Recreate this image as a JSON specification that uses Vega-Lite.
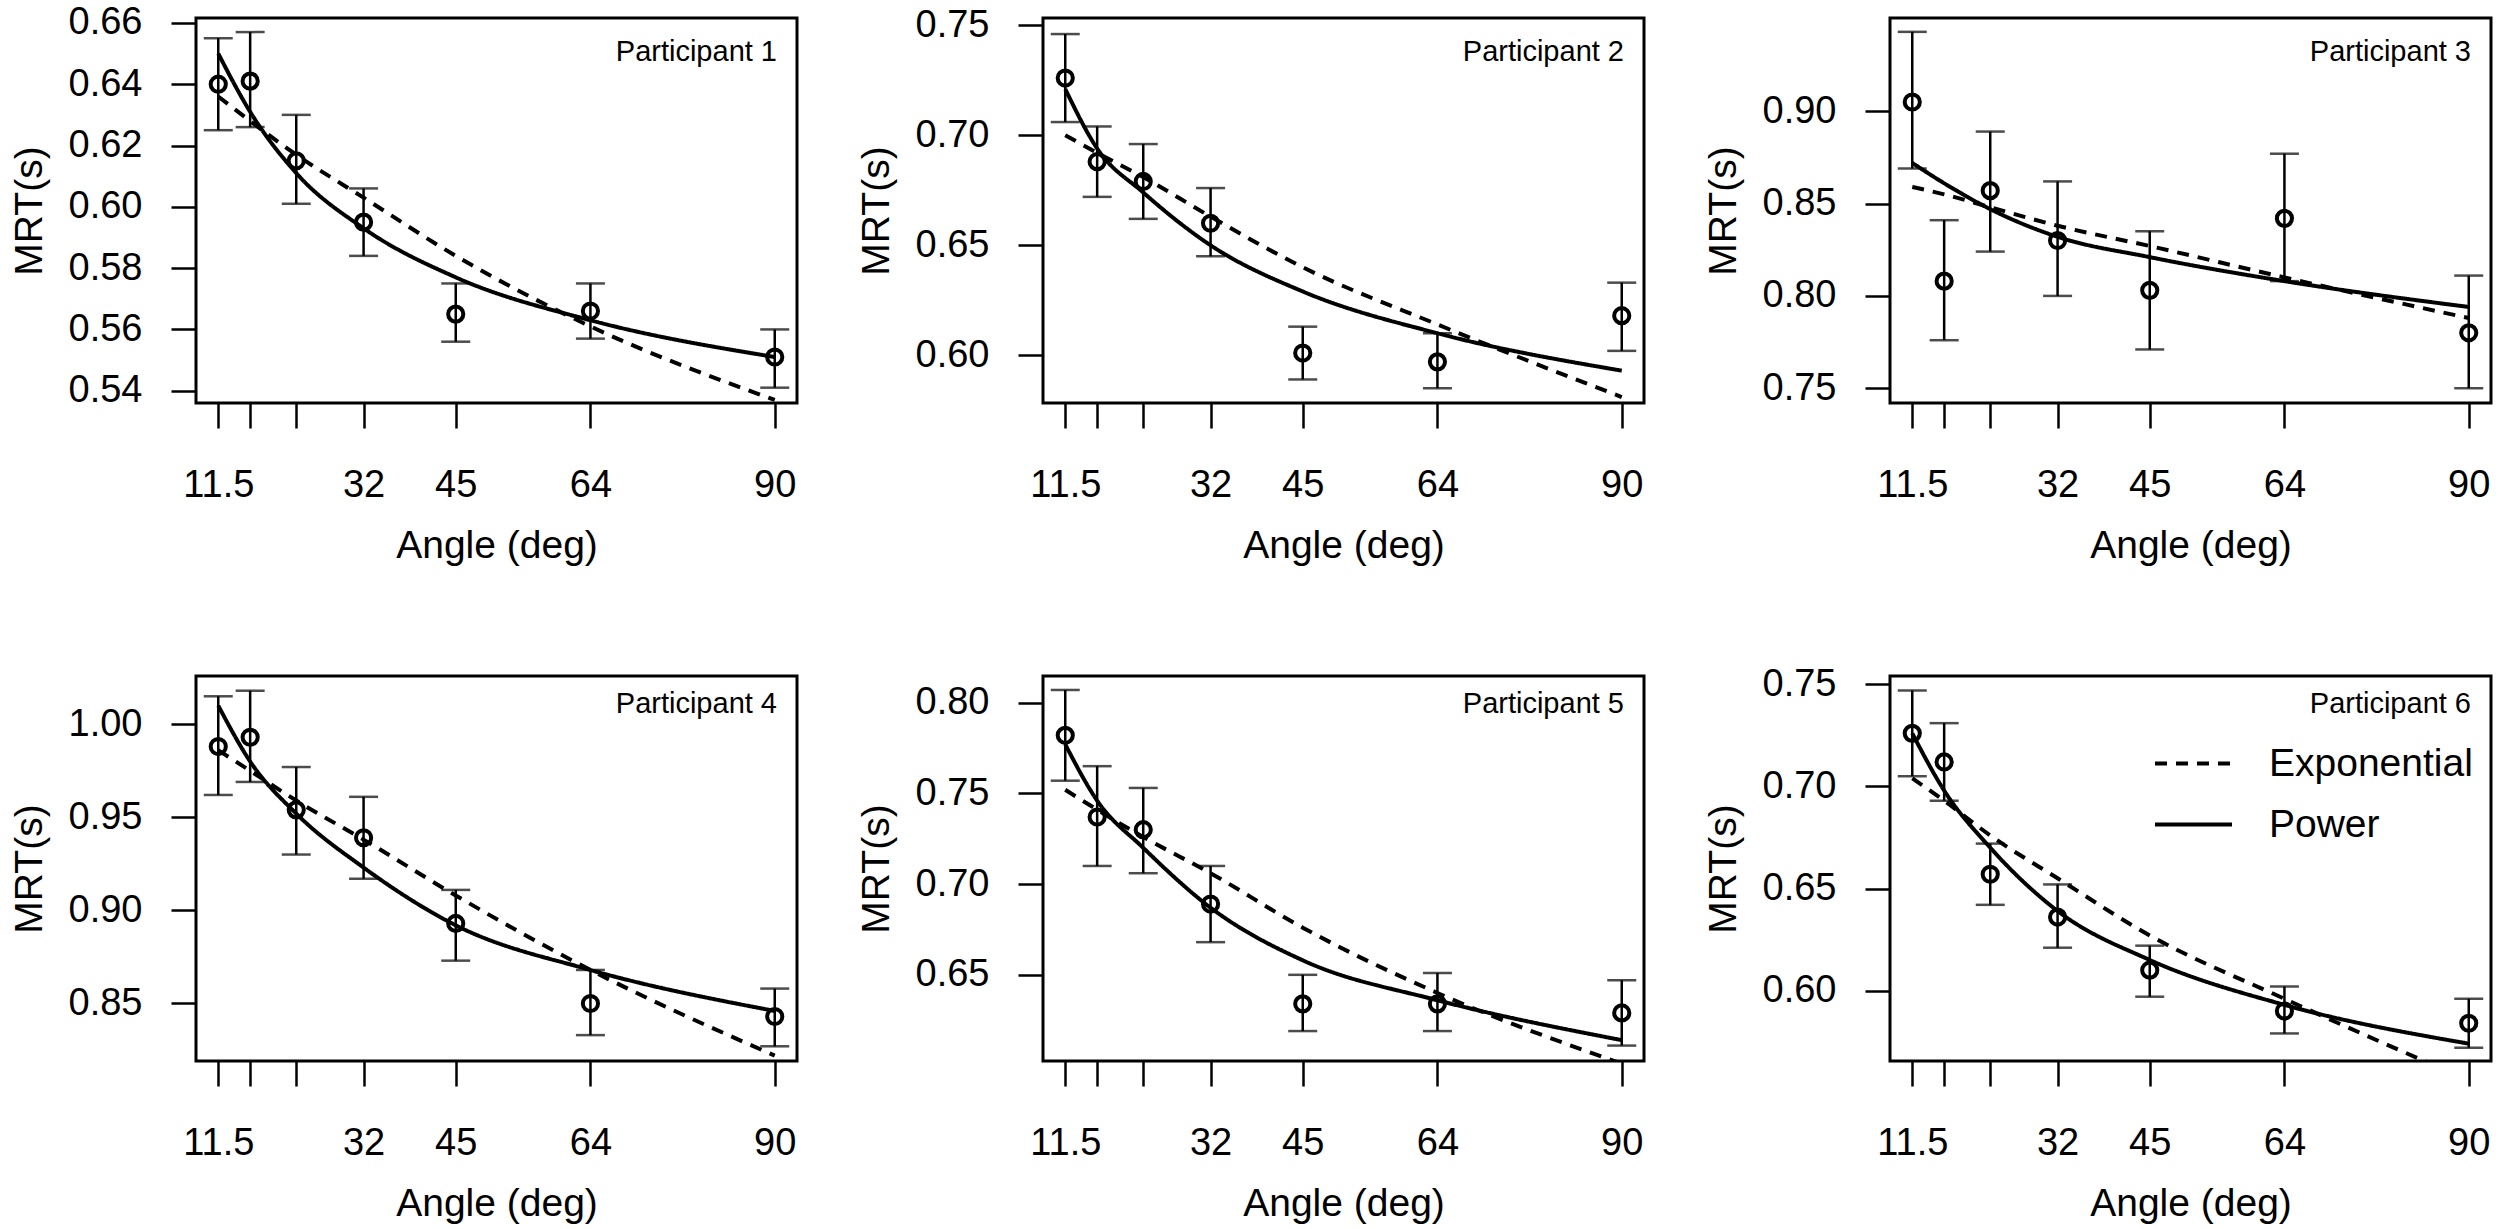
{
  "$schema": "https://vega.github.io/schema/vega-lite/v6.json",
  "background": "white",
  "padding": {"left": 8, "top": 2, "right": 5, "bottom": 0},
  "datasets": {
    "points": [
      {"p": 1, "angle": 11.5, "mrt": 0.640, "lo": 0.625, "hi": 0.655},
      {"p": 1, "angle": 16, "mrt": 0.641, "lo": 0.626, "hi": 0.657},
      {"p": 1, "angle": 22.5, "mrt": 0.615, "lo": 0.601, "hi": 0.630},
      {"p": 1, "angle": 32, "mrt": 0.595, "lo": 0.584, "hi": 0.606},
      {"p": 1, "angle": 45, "mrt": 0.565, "lo": 0.556, "hi": 0.575},
      {"p": 1, "angle": 64, "mrt": 0.566, "lo": 0.557, "hi": 0.575},
      {"p": 1, "angle": 90, "mrt": 0.551, "lo": 0.541, "hi": 0.560},
      {"p": 2, "angle": 11.5, "mrt": 0.726, "lo": 0.706, "hi": 0.746},
      {"p": 2, "angle": 16, "mrt": 0.688, "lo": 0.672, "hi": 0.704},
      {"p": 2, "angle": 22.5, "mrt": 0.679, "lo": 0.662, "hi": 0.696},
      {"p": 2, "angle": 32, "mrt": 0.660, "lo": 0.645, "hi": 0.676},
      {"p": 2, "angle": 45, "mrt": 0.601, "lo": 0.589, "hi": 0.613},
      {"p": 2, "angle": 64, "mrt": 0.597, "lo": 0.585, "hi": 0.610},
      {"p": 2, "angle": 90, "mrt": 0.618, "lo": 0.602, "hi": 0.633},
      {"p": 3, "angle": 11.5, "mrt": 0.905, "lo": 0.869, "hi": 0.943},
      {"p": 3, "angle": 16, "mrt": 0.808, "lo": 0.776, "hi": 0.841},
      {"p": 3, "angle": 22.5, "mrt": 0.857, "lo": 0.824, "hi": 0.889},
      {"p": 3, "angle": 32, "mrt": 0.830, "lo": 0.800, "hi": 0.862},
      {"p": 3, "angle": 45, "mrt": 0.803, "lo": 0.771, "hi": 0.835},
      {"p": 3, "angle": 64, "mrt": 0.842, "lo": 0.808, "hi": 0.877},
      {"p": 3, "angle": 90, "mrt": 0.780, "lo": 0.750, "hi": 0.811},
      {"p": 4, "angle": 11.5, "mrt": 0.988, "lo": 0.962, "hi": 1.015},
      {"p": 4, "angle": 16, "mrt": 0.993, "lo": 0.969, "hi": 1.018},
      {"p": 4, "angle": 22.5, "mrt": 0.954, "lo": 0.930, "hi": 0.977},
      {"p": 4, "angle": 32, "mrt": 0.939, "lo": 0.917, "hi": 0.961},
      {"p": 4, "angle": 45, "mrt": 0.893, "lo": 0.873, "hi": 0.911},
      {"p": 4, "angle": 64, "mrt": 0.850, "lo": 0.833, "hi": 0.868},
      {"p": 4, "angle": 90, "mrt": 0.843, "lo": 0.827, "hi": 0.858},
      {"p": 5, "angle": 11.5, "mrt": 0.782, "lo": 0.757, "hi": 0.807},
      {"p": 5, "angle": 16, "mrt": 0.737, "lo": 0.710, "hi": 0.765},
      {"p": 5, "angle": 22.5, "mrt": 0.730, "lo": 0.706, "hi": 0.753},
      {"p": 5, "angle": 32, "mrt": 0.689, "lo": 0.668, "hi": 0.710},
      {"p": 5, "angle": 45, "mrt": 0.634, "lo": 0.619, "hi": 0.650},
      {"p": 5, "angle": 64, "mrt": 0.634, "lo": 0.619, "hi": 0.651},
      {"p": 5, "angle": 90, "mrt": 0.629, "lo": 0.611, "hi": 0.647},
      {"p": 6, "angle": 11.5, "mrt": 0.726, "lo": 0.705, "hi": 0.747},
      {"p": 6, "angle": 16, "mrt": 0.712, "lo": 0.693, "hi": 0.731},
      {"p": 6, "angle": 22.5, "mrt": 0.657, "lo": 0.642, "hi": 0.672},
      {"p": 6, "angle": 32, "mrt": 0.636, "lo": 0.621, "hi": 0.652},
      {"p": 6, "angle": 45, "mrt": 0.610, "lo": 0.597, "hi": 0.622},
      {"p": 6, "angle": 64, "mrt": 0.590, "lo": 0.579, "hi": 0.602},
      {"p": 6, "angle": 90, "mrt": 0.584, "lo": 0.572, "hi": 0.596}
    ],
    "curves": [
      {"p": 1, "model": "Power", "angle": 11.5, "mrt": 0.650},
      {"p": 1, "model": "Power", "angle": 16, "mrt": 0.631},
      {"p": 1, "model": "Power", "angle": 22.5, "mrt": 0.611},
      {"p": 1, "model": "Power", "angle": 32, "mrt": 0.593},
      {"p": 1, "model": "Power", "angle": 45, "mrt": 0.577},
      {"p": 1, "model": "Power", "angle": 64, "mrt": 0.563},
      {"p": 1, "model": "Power", "angle": 90, "mrt": 0.551},
      {"p": 1, "model": "Exponential", "angle": 11.5, "mrt": 0.636},
      {"p": 1, "model": "Exponential", "angle": 16, "mrt": 0.628},
      {"p": 1, "model": "Exponential", "angle": 22.5, "mrt": 0.617},
      {"p": 1, "model": "Exponential", "angle": 32, "mrt": 0.603},
      {"p": 1, "model": "Exponential", "angle": 45, "mrt": 0.584},
      {"p": 1, "model": "Exponential", "angle": 64, "mrt": 0.561},
      {"p": 1, "model": "Exponential", "angle": 90, "mrt": 0.537},
      {"p": 2, "model": "Power", "angle": 11.5, "mrt": 0.721},
      {"p": 2, "model": "Power", "angle": 16, "mrt": 0.694},
      {"p": 2, "model": "Power", "angle": 22.5, "mrt": 0.674},
      {"p": 2, "model": "Power", "angle": 32, "mrt": 0.650},
      {"p": 2, "model": "Power", "angle": 45, "mrt": 0.629},
      {"p": 2, "model": "Power", "angle": 64, "mrt": 0.610},
      {"p": 2, "model": "Power", "angle": 90, "mrt": 0.593},
      {"p": 2, "model": "Exponential", "angle": 11.5, "mrt": 0.700},
      {"p": 2, "model": "Exponential", "angle": 16, "mrt": 0.692},
      {"p": 2, "model": "Exponential", "angle": 22.5, "mrt": 0.681},
      {"p": 2, "model": "Exponential", "angle": 32, "mrt": 0.663},
      {"p": 2, "model": "Exponential", "angle": 45, "mrt": 0.640},
      {"p": 2, "model": "Exponential", "angle": 64, "mrt": 0.614},
      {"p": 2, "model": "Exponential", "angle": 90, "mrt": 0.581},
      {"p": 3, "model": "Power", "angle": 11.5, "mrt": 0.872},
      {"p": 3, "model": "Power", "angle": 16, "mrt": 0.861},
      {"p": 3, "model": "Power", "angle": 22.5, "mrt": 0.847},
      {"p": 3, "model": "Power", "angle": 32, "mrt": 0.832},
      {"p": 3, "model": "Power", "angle": 45, "mrt": 0.821},
      {"p": 3, "model": "Power", "angle": 64, "mrt": 0.808},
      {"p": 3, "model": "Power", "angle": 90, "mrt": 0.794},
      {"p": 3, "model": "Exponential", "angle": 11.5, "mrt": 0.859},
      {"p": 3, "model": "Exponential", "angle": 16, "mrt": 0.855},
      {"p": 3, "model": "Exponential", "angle": 22.5, "mrt": 0.848},
      {"p": 3, "model": "Exponential", "angle": 32, "mrt": 0.838},
      {"p": 3, "model": "Exponential", "angle": 45, "mrt": 0.827},
      {"p": 3, "model": "Exponential", "angle": 64, "mrt": 0.810},
      {"p": 3, "model": "Exponential", "angle": 90, "mrt": 0.788},
      {"p": 4, "model": "Power", "angle": 11.5, "mrt": 1.010},
      {"p": 4, "model": "Power", "angle": 16, "mrt": 0.980},
      {"p": 4, "model": "Power", "angle": 22.5, "mrt": 0.952},
      {"p": 4, "model": "Power", "angle": 32, "mrt": 0.923},
      {"p": 4, "model": "Power", "angle": 45, "mrt": 0.892},
      {"p": 4, "model": "Power", "angle": 64, "mrt": 0.868},
      {"p": 4, "model": "Power", "angle": 90, "mrt": 0.846},
      {"p": 4, "model": "Exponential", "angle": 11.5, "mrt": 0.986},
      {"p": 4, "model": "Exponential", "angle": 16, "mrt": 0.975},
      {"p": 4, "model": "Exponential", "angle": 22.5, "mrt": 0.959},
      {"p": 4, "model": "Exponential", "angle": 32, "mrt": 0.938},
      {"p": 4, "model": "Exponential", "angle": 45, "mrt": 0.908},
      {"p": 4, "model": "Exponential", "angle": 64, "mrt": 0.868},
      {"p": 4, "model": "Exponential", "angle": 90, "mrt": 0.822},
      {"p": 5, "model": "Power", "angle": 11.5, "mrt": 0.777},
      {"p": 5, "model": "Power", "angle": 16, "mrt": 0.746},
      {"p": 5, "model": "Power", "angle": 22.5, "mrt": 0.720},
      {"p": 5, "model": "Power", "angle": 32, "mrt": 0.687},
      {"p": 5, "model": "Power", "angle": 45, "mrt": 0.658},
      {"p": 5, "model": "Power", "angle": 64, "mrt": 0.636},
      {"p": 5, "model": "Power", "angle": 90, "mrt": 0.614},
      {"p": 5, "model": "Exponential", "angle": 11.5, "mrt": 0.752},
      {"p": 5, "model": "Exponential", "angle": 16, "mrt": 0.741},
      {"p": 5, "model": "Exponential", "angle": 22.5, "mrt": 0.726},
      {"p": 5, "model": "Exponential", "angle": 32, "mrt": 0.706},
      {"p": 5, "model": "Exponential", "angle": 45, "mrt": 0.676},
      {"p": 5, "model": "Exponential", "angle": 64, "mrt": 0.640},
      {"p": 5, "model": "Exponential", "angle": 90, "mrt": 0.601},
      {"p": 6, "model": "Power", "angle": 11.5, "mrt": 0.726},
      {"p": 6, "model": "Power", "angle": 16, "mrt": 0.698},
      {"p": 6, "model": "Power", "angle": 22.5, "mrt": 0.670},
      {"p": 6, "model": "Power", "angle": 32, "mrt": 0.639},
      {"p": 6, "model": "Power", "angle": 45, "mrt": 0.615},
      {"p": 6, "model": "Power", "angle": 64, "mrt": 0.593},
      {"p": 6, "model": "Power", "angle": 90, "mrt": 0.574},
      {"p": 6, "model": "Exponential", "angle": 11.5, "mrt": 0.704},
      {"p": 6, "model": "Exponential", "angle": 16, "mrt": 0.693},
      {"p": 6, "model": "Exponential", "angle": 22.5, "mrt": 0.676},
      {"p": 6, "model": "Exponential", "angle": 32, "mrt": 0.655},
      {"p": 6, "model": "Exponential", "angle": 45, "mrt": 0.627},
      {"p": 6, "model": "Exponential", "angle": 64, "mrt": 0.596},
      {"p": 6, "model": "Exponential", "angle": 90, "mrt": 0.556}
    ]
  },
  "columns": 3,
  "spacing": {"row": 273, "column": 246},
  "bounds": "flush",
  "resolve": {"scale": {"strokeDash": "independent"}, "legend": {"strokeDash": "independent"}},
  "concat": [
    {
      "width": 601, "height": 385,
      "layer": [
        {"data": {"name": "curves"}, "transform": [{"filter": "datum.p == 1"}],
         "mark": {"type": "line", "interpolate": "monotone", "clip": true, "color": "black", "strokeWidth": 4},
         "encoding": {
           "x": {"field": "angle", "type": "quantitative", "title": "Angle (deg)", "scale": {"domain": [8.36, 93.14], "nice": false, "zero": false}},
           "y": {"field": "mrt", "type": "quantitative", "title": "MRT(s)", "scale": {"domain": [0.536, 0.6616], "nice": false, "zero": false}},
           "strokeDash": {"field": "model", "type": "nominal", "scale": {"domain": ["Exponential", "Power"], "range": [[12, 9], [1, 0]]}, "legend": null}}},
        {"data": {"name": "points"}, "transform": [{"filter": "datum.p == 1"}],
         "mark": {"type": "errorbar", "color": "black", "ticks": {"size": 29, "thickness": 2.5, "color": "black"}, "rule": {"strokeWidth": 2.5, "color": "black"}},
         "encoding": {
           "x": {"field": "angle", "type": "quantitative", "title": "Angle (deg)", "scale": {"domain": [8.36, 93.14], "nice": false, "zero": false}},
           "y": {"field": "lo", "type": "quantitative", "title": "MRT(s)", "scale": {"domain": [0.536, 0.6616], "nice": false, "zero": false}},
           "y2": {"field": "hi"}}},
        {"data": {"name": "points"}, "transform": [{"filter": "datum.p == 1"}],
         "mark": {"type": "point", "shape": "circle", "filled": false, "color": "black", "opacity": 1, "strokeWidth": 4, "size": 230},
         "encoding": {
           "x": {"field": "angle", "type": "quantitative", "title": "Angle (deg)", "scale": {"domain": [8.36, 93.14], "nice": false, "zero": false},
                 "axis": {"values": [11.5, 16, 22.5, 32, 45, 64, 90], "labelExpr": "datum.value == 16 || datum.value == 22.5 ? '' : format(datum.value, '~g')"}},
           "y": {"field": "mrt", "type": "quantitative", "title": "MRT(s)", "scale": {"domain": [0.536, 0.6616], "nice": false, "zero": false},
                 "axis": {"values": [0.54, 0.56, 0.58, 0.60, 0.62, 0.64, 0.66], "format": ".2f"}}}},
        {"data": {"values": [{"p": 1}]},
         "mark": {"type": "text", "align": "right", "baseline": "top", "dx": -20, "dy": 20, "fontSize": 29, "fill": "black"},
         "encoding": {
           "x": {"datum": 93.14, "type": "quantitative", "title": "Angle (deg)", "scale": {"domain": [8.36, 93.14], "nice": false, "zero": false}},
           "y": {"datum": 0.6616, "type": "quantitative", "title": "MRT(s)", "scale": {"domain": [0.536, 0.6616], "nice": false, "zero": false}},
           "text": {"value": "Participant 1"}}}
      ]
    },
    {
      "width": 601, "height": 385,
      "layer": [
        {"data": {"name": "curves"}, "transform": [{"filter": "datum.p == 2"}],
         "mark": {"type": "line", "interpolate": "monotone", "clip": true, "color": "black", "strokeWidth": 4},
         "encoding": {
           "x": {"field": "angle", "type": "quantitative", "title": "Angle (deg)", "scale": {"domain": [8.36, 93.14], "nice": false, "zero": false}},
           "y": {"field": "mrt", "type": "quantitative", "title": "MRT(s)", "scale": {"domain": [0.5783, 0.7533], "nice": false, "zero": false}},
           "strokeDash": {"field": "model", "type": "nominal", "scale": {"domain": ["Exponential", "Power"], "range": [[12, 9], [1, 0]]}, "legend": null}}},
        {"data": {"name": "points"}, "transform": [{"filter": "datum.p == 2"}],
         "mark": {"type": "errorbar", "color": "black", "ticks": {"size": 29, "thickness": 2.5, "color": "black"}, "rule": {"strokeWidth": 2.5, "color": "black"}},
         "encoding": {
           "x": {"field": "angle", "type": "quantitative", "title": "Angle (deg)", "scale": {"domain": [8.36, 93.14], "nice": false, "zero": false}},
           "y": {"field": "lo", "type": "quantitative", "title": "MRT(s)", "scale": {"domain": [0.5783, 0.7533], "nice": false, "zero": false}},
           "y2": {"field": "hi"}}},
        {"data": {"name": "points"}, "transform": [{"filter": "datum.p == 2"}],
         "mark": {"type": "point", "shape": "circle", "filled": false, "color": "black", "opacity": 1, "strokeWidth": 4, "size": 230},
         "encoding": {
           "x": {"field": "angle", "type": "quantitative", "title": "Angle (deg)", "scale": {"domain": [8.36, 93.14], "nice": false, "zero": false},
                 "axis": {"values": [11.5, 16, 22.5, 32, 45, 64, 90], "labelExpr": "datum.value == 16 || datum.value == 22.5 ? '' : format(datum.value, '~g')"}},
           "y": {"field": "mrt", "type": "quantitative", "title": "MRT(s)", "scale": {"domain": [0.5783, 0.7533], "nice": false, "zero": false},
                 "axis": {"values": [0.60, 0.65, 0.70, 0.75], "format": ".2f"}}}},
        {"data": {"values": [{"p": 2}]},
         "mark": {"type": "text", "align": "right", "baseline": "top", "dx": -20, "dy": 20, "fontSize": 29, "fill": "black"},
         "encoding": {
           "x": {"datum": 93.14, "type": "quantitative", "title": "Angle (deg)", "scale": {"domain": [8.36, 93.14], "nice": false, "zero": false}},
           "y": {"datum": 0.7533, "type": "quantitative", "title": "MRT(s)", "scale": {"domain": [0.5783, 0.7533], "nice": false, "zero": false}},
           "text": {"value": "Participant 2"}}}
      ]
    },
    {
      "width": 601, "height": 385,
      "layer": [
        {"data": {"name": "curves"}, "transform": [{"filter": "datum.p == 3"}],
         "mark": {"type": "line", "interpolate": "monotone", "clip": true, "color": "black", "strokeWidth": 4},
         "encoding": {
           "x": {"field": "angle", "type": "quantitative", "title": "Angle (deg)", "scale": {"domain": [8.36, 93.14], "nice": false, "zero": false}},
           "y": {"field": "mrt", "type": "quantitative", "title": "MRT(s)", "scale": {"domain": [0.742, 0.9505], "nice": false, "zero": false}},
           "strokeDash": {"field": "model", "type": "nominal", "scale": {"domain": ["Exponential", "Power"], "range": [[12, 9], [1, 0]]}, "legend": null}}},
        {"data": {"name": "points"}, "transform": [{"filter": "datum.p == 3"}],
         "mark": {"type": "errorbar", "color": "black", "ticks": {"size": 29, "thickness": 2.5, "color": "black"}, "rule": {"strokeWidth": 2.5, "color": "black"}},
         "encoding": {
           "x": {"field": "angle", "type": "quantitative", "title": "Angle (deg)", "scale": {"domain": [8.36, 93.14], "nice": false, "zero": false}},
           "y": {"field": "lo", "type": "quantitative", "title": "MRT(s)", "scale": {"domain": [0.742, 0.9505], "nice": false, "zero": false}},
           "y2": {"field": "hi"}}},
        {"data": {"name": "points"}, "transform": [{"filter": "datum.p == 3"}],
         "mark": {"type": "point", "shape": "circle", "filled": false, "color": "black", "opacity": 1, "strokeWidth": 4, "size": 230},
         "encoding": {
           "x": {"field": "angle", "type": "quantitative", "title": "Angle (deg)", "scale": {"domain": [8.36, 93.14], "nice": false, "zero": false},
                 "axis": {"values": [11.5, 16, 22.5, 32, 45, 64, 90], "labelExpr": "datum.value == 16 || datum.value == 22.5 ? '' : format(datum.value, '~g')"}},
           "y": {"field": "mrt", "type": "quantitative", "title": "MRT(s)", "scale": {"domain": [0.742, 0.9505], "nice": false, "zero": false},
                 "axis": {"values": [0.75, 0.80, 0.85, 0.90], "format": ".2f"}}}},
        {"data": {"values": [{"p": 3}]},
         "mark": {"type": "text", "align": "right", "baseline": "top", "dx": -20, "dy": 20, "fontSize": 29, "fill": "black"},
         "encoding": {
           "x": {"datum": 93.14, "type": "quantitative", "title": "Angle (deg)", "scale": {"domain": [8.36, 93.14], "nice": false, "zero": false}},
           "y": {"datum": 0.9505, "type": "quantitative", "title": "MRT(s)", "scale": {"domain": [0.742, 0.9505], "nice": false, "zero": false}},
           "text": {"value": "Participant 3"}}}
      ]
    },
    {
      "width": 601, "height": 385,
      "layer": [
        {"data": {"name": "curves"}, "transform": [{"filter": "datum.p == 4"}],
         "mark": {"type": "line", "interpolate": "monotone", "clip": true, "color": "black", "strokeWidth": 4},
         "encoding": {
           "x": {"field": "angle", "type": "quantitative", "title": "Angle (deg)", "scale": {"domain": [8.36, 93.14], "nice": false, "zero": false}},
           "y": {"field": "mrt", "type": "quantitative", "title": "MRT(s)", "scale": {"domain": [0.8191, 1.0259], "nice": false, "zero": false}},
           "strokeDash": {"field": "model", "type": "nominal", "scale": {"domain": ["Exponential", "Power"], "range": [[12, 9], [1, 0]]}, "legend": null}}},
        {"data": {"name": "points"}, "transform": [{"filter": "datum.p == 4"}],
         "mark": {"type": "errorbar", "color": "black", "ticks": {"size": 29, "thickness": 2.5, "color": "black"}, "rule": {"strokeWidth": 2.5, "color": "black"}},
         "encoding": {
           "x": {"field": "angle", "type": "quantitative", "title": "Angle (deg)", "scale": {"domain": [8.36, 93.14], "nice": false, "zero": false}},
           "y": {"field": "lo", "type": "quantitative", "title": "MRT(s)", "scale": {"domain": [0.8191, 1.0259], "nice": false, "zero": false}},
           "y2": {"field": "hi"}}},
        {"data": {"name": "points"}, "transform": [{"filter": "datum.p == 4"}],
         "mark": {"type": "point", "shape": "circle", "filled": false, "color": "black", "opacity": 1, "strokeWidth": 4, "size": 230},
         "encoding": {
           "x": {"field": "angle", "type": "quantitative", "title": "Angle (deg)", "scale": {"domain": [8.36, 93.14], "nice": false, "zero": false},
                 "axis": {"values": [11.5, 16, 22.5, 32, 45, 64, 90], "labelExpr": "datum.value == 16 || datum.value == 22.5 ? '' : format(datum.value, '~g')"}},
           "y": {"field": "mrt", "type": "quantitative", "title": "MRT(s)", "scale": {"domain": [0.8191, 1.0259], "nice": false, "zero": false},
                 "axis": {"values": [0.85, 0.90, 0.95, 1.00], "format": ".2f"}}}},
        {"data": {"values": [{"p": 4}]},
         "mark": {"type": "text", "align": "right", "baseline": "top", "dx": -20, "dy": 14, "fontSize": 29, "fill": "black"},
         "encoding": {
           "x": {"datum": 93.14, "type": "quantitative", "title": "Angle (deg)", "scale": {"domain": [8.36, 93.14], "nice": false, "zero": false}},
           "y": {"datum": 1.0259, "type": "quantitative", "title": "MRT(s)", "scale": {"domain": [0.8191, 1.0259], "nice": false, "zero": false}},
           "text": {"value": "Participant 4"}}}
      ]
    },
    {
      "width": 601, "height": 385,
      "layer": [
        {"data": {"name": "curves"}, "transform": [{"filter": "datum.p == 5"}],
         "mark": {"type": "line", "interpolate": "monotone", "clip": true, "color": "black", "strokeWidth": 4},
         "encoding": {
           "x": {"field": "angle", "type": "quantitative", "title": "Angle (deg)", "scale": {"domain": [8.36, 93.14], "nice": false, "zero": false}},
           "y": {"field": "mrt", "type": "quantitative", "title": "MRT(s)", "scale": {"domain": [0.6025, 0.8147], "nice": false, "zero": false}},
           "strokeDash": {"field": "model", "type": "nominal", "scale": {"domain": ["Exponential", "Power"], "range": [[12, 9], [1, 0]]}, "legend": null}}},
        {"data": {"name": "points"}, "transform": [{"filter": "datum.p == 5"}],
         "mark": {"type": "errorbar", "color": "black", "ticks": {"size": 29, "thickness": 2.5, "color": "black"}, "rule": {"strokeWidth": 2.5, "color": "black"}},
         "encoding": {
           "x": {"field": "angle", "type": "quantitative", "title": "Angle (deg)", "scale": {"domain": [8.36, 93.14], "nice": false, "zero": false}},
           "y": {"field": "lo", "type": "quantitative", "title": "MRT(s)", "scale": {"domain": [0.6025, 0.8147], "nice": false, "zero": false}},
           "y2": {"field": "hi"}}},
        {"data": {"name": "points"}, "transform": [{"filter": "datum.p == 5"}],
         "mark": {"type": "point", "shape": "circle", "filled": false, "color": "black", "opacity": 1, "strokeWidth": 4, "size": 230},
         "encoding": {
           "x": {"field": "angle", "type": "quantitative", "title": "Angle (deg)", "scale": {"domain": [8.36, 93.14], "nice": false, "zero": false},
                 "axis": {"values": [11.5, 16, 22.5, 32, 45, 64, 90], "labelExpr": "datum.value == 16 || datum.value == 22.5 ? '' : format(datum.value, '~g')"}},
           "y": {"field": "mrt", "type": "quantitative", "title": "MRT(s)", "scale": {"domain": [0.6025, 0.8147], "nice": false, "zero": false},
                 "axis": {"values": [0.65, 0.70, 0.75, 0.80], "format": ".2f"}}}},
        {"data": {"values": [{"p": 5}]},
         "mark": {"type": "text", "align": "right", "baseline": "top", "dx": -20, "dy": 14, "fontSize": 29, "fill": "black"},
         "encoding": {
           "x": {"datum": 93.14, "type": "quantitative", "title": "Angle (deg)", "scale": {"domain": [8.36, 93.14], "nice": false, "zero": false}},
           "y": {"datum": 0.8147, "type": "quantitative", "title": "MRT(s)", "scale": {"domain": [0.6025, 0.8147], "nice": false, "zero": false}},
           "text": {"value": "Participant 5"}}}
      ]
    },
    {
      "width": 601, "height": 385,
      "layer": [
        {"data": {"name": "curves"}, "transform": [{"filter": "datum.p == 6"}],
         "mark": {"type": "line", "interpolate": "monotone", "clip": true, "color": "black", "strokeWidth": 4},
         "encoding": {
           "x": {"field": "angle", "type": "quantitative", "title": "Angle (deg)", "scale": {"domain": [8.36, 93.14], "nice": false, "zero": false}},
           "y": {"field": "mrt", "type": "quantitative", "title": "MRT(s)", "scale": {"domain": [0.5655, 0.7541], "nice": false, "zero": false}},
           "strokeDash": {"field": "model", "type": "nominal", "scale": {"domain": ["Exponential", "Power"], "range": [[12, 9], [1, 0]]},
                          "legend": {"orient": "none", "legendX": 263, "legendY": 47, "title": null, "padding": 0,
                                     "symbolType": "stroke", "symbolSize": 5929, "symbolStrokeWidth": 4, "symbolStrokeColor": "black",
                                     "labelFontSize": 39, "labelColor": "black", "labelOffset": 35, "labelLimit": 0, "rowPadding": 0}}}},
        {"data": {"name": "points"}, "transform": [{"filter": "datum.p == 6"}],
         "mark": {"type": "errorbar", "color": "black", "ticks": {"size": 29, "thickness": 2.5, "color": "black"}, "rule": {"strokeWidth": 2.5, "color": "black"}},
         "encoding": {
           "x": {"field": "angle", "type": "quantitative", "title": "Angle (deg)", "scale": {"domain": [8.36, 93.14], "nice": false, "zero": false}},
           "y": {"field": "lo", "type": "quantitative", "title": "MRT(s)", "scale": {"domain": [0.5655, 0.7541], "nice": false, "zero": false}},
           "y2": {"field": "hi"}}},
        {"data": {"name": "points"}, "transform": [{"filter": "datum.p == 6"}],
         "mark": {"type": "point", "shape": "circle", "filled": false, "color": "black", "opacity": 1, "strokeWidth": 4, "size": 230},
         "encoding": {
           "x": {"field": "angle", "type": "quantitative", "title": "Angle (deg)", "scale": {"domain": [8.36, 93.14], "nice": false, "zero": false},
                 "axis": {"values": [11.5, 16, 22.5, 32, 45, 64, 90], "labelExpr": "datum.value == 16 || datum.value == 22.5 ? '' : format(datum.value, '~g')"}},
           "y": {"field": "mrt", "type": "quantitative", "title": "MRT(s)", "scale": {"domain": [0.5655, 0.7541], "nice": false, "zero": false},
                 "axis": {"values": [0.60, 0.65, 0.70, 0.75], "format": ".2f"}}}},
        {"data": {"values": [{"p": 6}]},
         "mark": {"type": "text", "align": "right", "baseline": "top", "dx": -20, "dy": 14, "fontSize": 29, "fill": "black"},
         "encoding": {
           "x": {"datum": 93.14, "type": "quantitative", "title": "Angle (deg)", "scale": {"domain": [8.36, 93.14], "nice": false, "zero": false}},
           "y": {"datum": 0.7541, "type": "quantitative", "title": "MRT(s)", "scale": {"domain": [0.5655, 0.7541], "nice": false, "zero": false}},
           "text": {"value": "Participant 6"}}}
      ]
    }
  ],
  "config": {
    "font": "Liberation Sans",
    "view": {"stroke": "black", "strokeWidth": 3},
    "axis": {
      "grid": false, "domain": false, "tickColor": "black", "tickWidth": 2.5, "tickSize": 25,
      "labelColor": "black", "labelFontSize": 38, "labelFlush": false, "labelOverlap": false,
      "titleColor": "black", "titleFontSize": 39, "titleFontWeight": "normal"
    },
    "axisX": {"labelPadding": 38, "titlePadding": 22},
    "axisY": {"labelPadding": 29, "titlePadding": 19},
    "legend": {"labelFont": "Liberation Sans"}
  }
}
